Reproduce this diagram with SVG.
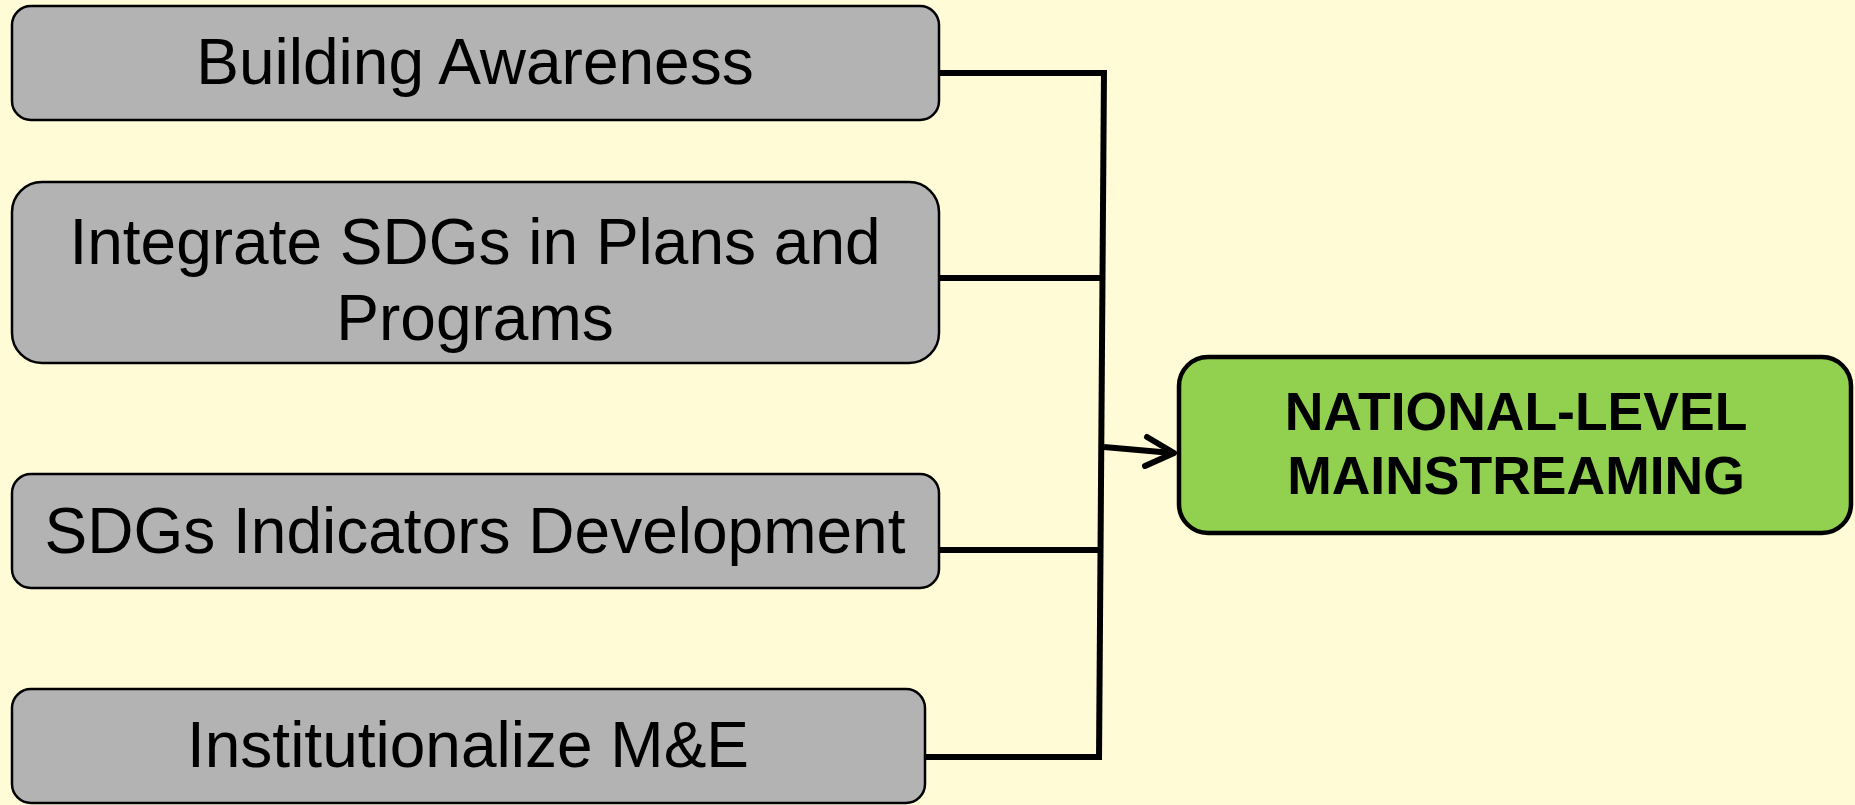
<svg xmlns="http://www.w3.org/2000/svg" width="1855" height="805" viewBox="0 0 1855 805">
<style>
.box{fill:#b3b3b3;stroke:#000;stroke-width:2.5}
.main{fill:#92d050;stroke:#000;stroke-width:4.5}
.t{font-family:"Liberation Sans",Arial,sans-serif;font-size:64px;fill:#000;text-anchor:middle}
.tb{font-family:"Liberation Sans",Arial,sans-serif;font-size:53.5px;font-weight:bold;fill:#000;text-anchor:middle}
.c{fill:none;stroke:#000;stroke-width:6}
</style>
<rect width="1855" height="805" fill="#fffbd7"/>
<g id="connectors">
<path class="c" d="M939 73 H1105"/>
<path class="c" d="M939 278 H1102"/>
<path class="c" d="M939 550 H1100"/>
<path class="c" d="M925 757 H1099"/>
<path class="c" d="M1104 70 L1099 760" stroke-width="7"/>
<path class="c" d="M1104 447 L1172 453"/>
<path class="c" d="M1147 437 L1174 453 L1145 466" stroke-linecap="round" stroke-linejoin="round"/>
</g>
<g id="n1">
<rect class="box" x="12" y="6" width="927" height="114" rx="19"/>
<text class="t" x="475" y="84">Building Awareness</text>
</g>
<g id="n2">
<rect class="box" x="12" y="182" width="927" height="181" rx="30"/>
<text class="t" x="475" y="264">Integrate SDGs in Plans and</text>
<text class="t" x="475" y="340">Programs</text>
</g>
<g id="n3">
<rect class="box" x="12" y="474" width="927" height="114" rx="19"/>
<text class="t" x="475" y="553">SDGs Indicators Development</text>
</g>
<g id="n4">
<rect class="box" x="12" y="689" width="913" height="114" rx="19"/>
<text class="t" x="468" y="767">Institutionalize M&amp;E</text>
</g>
<g id="n5">
<rect class="main" x="1179" y="357" width="672" height="176" rx="29"/>
<text class="tb" x="1516" y="430">NATIONAL-LEVEL</text>
<text class="tb" x="1516" y="494">MAINSTREAMING</text>
</g>
</svg>
